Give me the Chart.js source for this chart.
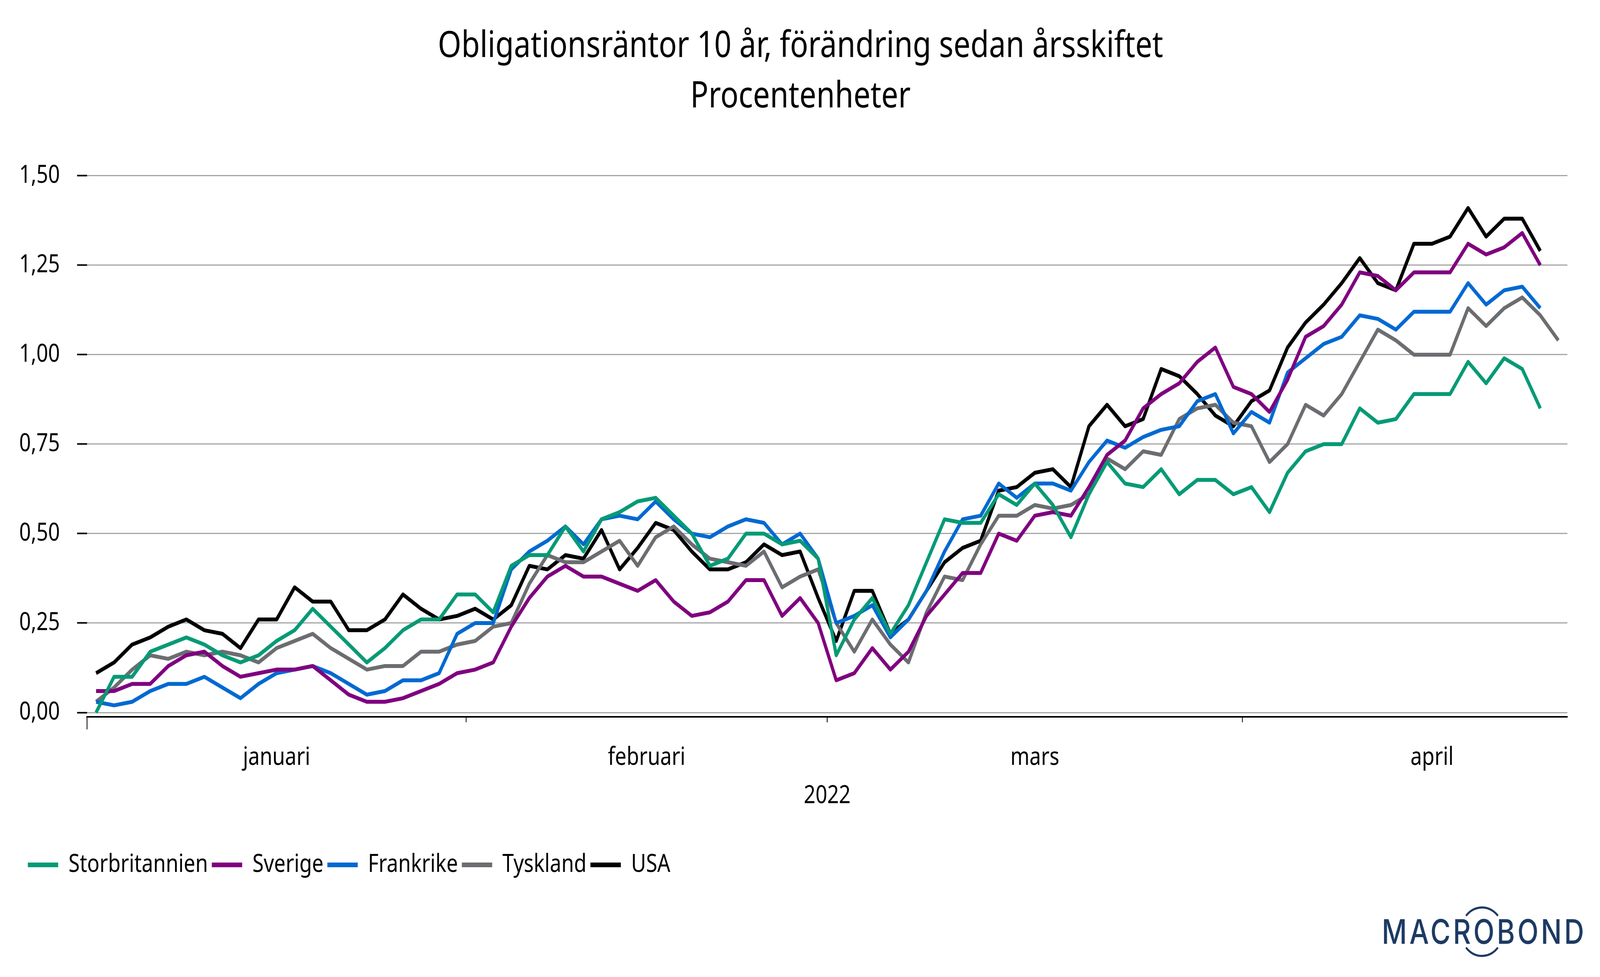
<!DOCTYPE html>
<html>
<head>
<meta charset="utf-8">
<title>Obligationsräntor 10 år</title>
<script src="https://cdn.jsdelivr.net/npm/chart.js@4"></script>
<style>
    html, body { margin: 0; padding: 0; background: #ffffff; overflow: hidden; }
    canvas { display: block; width: 100vw !important; height: 100vh !important; }
</style>
</head>
<body>
<canvas id="myChart" width="5001" height="2501"></canvas>
<script>
// DATA
const titleLines = ['Obligationsräntor 10 år, förändring sedan årsskiftet', 'Procentenheter'];
const yearLabel = '2022';
const monthNames = ['januari', 'februari', 'mars', 'april'];
const monthDays = [21, 20, 23, 21];
const yTicks = [0, 0.25, 0.5, 0.75, 1, 1.25, 1.5];

const storbritannien = [
    0.00, 0.10, 0.10, 0.17, 0.19, 0.21, 0.19, 0.16, 0.14, 0.16,
    0.20, 0.23, 0.29, 0.24, 0.19, 0.14, 0.18, 0.23, 0.26, 0.26,
    0.33, 0.33, 0.28, 0.41, 0.44, 0.44, 0.52, 0.45, 0.54, 0.56,
    0.59, 0.60, 0.55, 0.50, 0.41, 0.43, 0.50, 0.50, 0.47, 0.48,
    0.43, 0.16, 0.26, 0.32, 0.22, 0.30, 0.42, 0.54, 0.53, 0.53,
    0.61, 0.58, 0.64, 0.58, 0.49, 0.61, 0.70, 0.64, 0.63, 0.68,
    0.61, 0.65, 0.65, 0.61, 0.63, 0.56, 0.67, 0.73, 0.75, 0.75,
    0.85, 0.81, 0.82, 0.89, 0.89, 0.89, 0.98, 0.92, 0.99, 0.96,
    0.85
];
const sverige = [
    0.06, 0.06, 0.08, 0.08, 0.13, 0.16, 0.17, 0.13, 0.10, 0.11,
    0.12, 0.12, 0.13, 0.09, 0.05, 0.03, 0.03, 0.04, 0.06, 0.08,
    0.11, 0.12, 0.14, 0.24, 0.32, 0.38, 0.41, 0.38, 0.38, 0.36,
    0.34, 0.37, 0.31, 0.27, 0.28, 0.31, 0.37, 0.37, 0.27, 0.32,
    0.25, 0.09, 0.11, 0.18, 0.12, 0.17, 0.27, 0.33, 0.39, 0.39,
    0.50, 0.48, 0.55, 0.56, 0.55, 0.63, 0.72, 0.76, 0.85, 0.89,
    0.92, 0.98, 1.02, 0.91, 0.89, 0.84, 0.93, 1.05, 1.08, 1.14,
    1.23, 1.22, 1.18, 1.23, 1.23, 1.23, 1.31, 1.28, 1.30, 1.34,
    1.25
];
const frankrike = [
    0.03, 0.02, 0.03, 0.06, 0.08, 0.08, 0.10, 0.07, 0.04, 0.08,
    0.11, 0.12, 0.13, 0.11, 0.08, 0.05, 0.06, 0.09, 0.09, 0.11,
    0.22, 0.25, 0.25, 0.40, 0.45, 0.48, 0.52, 0.47, 0.54, 0.55,
    0.54, 0.59, 0.54, 0.50, 0.49, 0.52, 0.54, 0.53, 0.47, 0.50,
    0.43, 0.25, 0.27, 0.30, 0.21, 0.26, 0.34, 0.45, 0.54, 0.55,
    0.64, 0.60, 0.64, 0.64, 0.62, 0.70, 0.76, 0.74, 0.77, 0.79,
    0.80, 0.87, 0.89, 0.78, 0.84, 0.81, 0.95, 0.99, 1.03, 1.05,
    1.11, 1.10, 1.07, 1.12, 1.12, 1.12, 1.20, 1.14, 1.18, 1.19,
    1.13
];
const tyskland = [
    0.03, 0.07, 0.12, 0.16, 0.15, 0.17, 0.16, 0.17, 0.16, 0.14,
    0.18, 0.20, 0.22, 0.18, 0.15, 0.12, 0.13, 0.13, 0.17, 0.17,
    0.19, 0.20, 0.24, 0.25, 0.36, 0.44, 0.42, 0.42, 0.45, 0.48,
    0.41, 0.49, 0.52, 0.47, 0.43, 0.42, 0.41, 0.45, 0.35, 0.38,
    0.40, 0.25, 0.17, 0.26, 0.19, 0.14, 0.28, 0.38, 0.37, 0.47,
    0.55, 0.55, 0.58, 0.57, 0.58, 0.61, 0.71, 0.68, 0.73, 0.72,
    0.82, 0.85, 0.86, 0.81, 0.80, 0.70, 0.75, 0.86, 0.83, 0.89,
    0.98, 1.07, 1.04, 1.00, 1.00, 1.00, 1.13, 1.08, 1.13, 1.16,
    1.11, 1.04
];
const usa = [
    0.11, 0.14, 0.19, 0.21, 0.24, 0.26, 0.23, 0.22, 0.18, 0.26,
    0.26, 0.35, 0.31, 0.31, 0.23, 0.23, 0.26, 0.33, 0.29, 0.26,
    0.27, 0.29, 0.26, 0.30, 0.41, 0.40, 0.44, 0.43, 0.51, 0.40,
    0.46, 0.53, 0.51, 0.45, 0.40, 0.40, 0.42, 0.47, 0.44, 0.45,
    0.32, 0.20, 0.34, 0.34, 0.22, 0.26, 0.34, 0.42, 0.46, 0.48,
    0.62, 0.63, 0.67, 0.68, 0.63, 0.80, 0.86, 0.80, 0.82, 0.96,
    0.94, 0.89, 0.83, 0.80, 0.87, 0.90, 1.02, 1.09, 1.14, 1.20,
    1.27, 1.20, 1.18, 1.31, 1.31, 1.33, 1.41, 1.33, 1.38, 1.38,
    1.29
];

// Vardagar 2022, en etikett per observation
const labels = [];
for (let d = new Date(2022, 0, 3); labels.length < tyskland.length; d.setDate(d.getDate() + 1)) {
    if (d.getDay() !== 0 && d.getDay() !== 6) labels.push(d.toISOString().slice(0, 10));
}

const FONT = '"Noto Sans", Roboto, sans-serif';

function line(label, data, color) {
    return {
        label: label,
        data: data,
        borderColor: color,
        backgroundColor: color,
        borderWidth: 10,
        borderCapStyle: 'butt',
        borderJoinStyle: 'round',
        pointRadius: 0,
        tension: 0,
        fill: false
    };
}

// Månadsetiketter och streck under x-axeln
const monthAxis = {
    id: 'monthAxis',
    afterLayout(chart) {
        // titel och legend ligger lite till höger om layoutens kant
        chart.titleBlock.left += 50;
        chart.legend.left += 20;
    },
    afterDraw(chart) {
        const ctx = chart.ctx;
        const x = chart.scales.x;
        const half = (x.getPixelForValue(1) - x.getPixelForValue(0)) / 2;
        const bottom = chart.chartArea.bottom;
        ctx.save();
        ctx.fillStyle = '#000000';
        ctx.strokeStyle = '#000000';
        ctx.lineWidth = 2.5;
        ctx.font = '64px ' + FONT;
        ctx.textAlign = 'center';
        ctx.textBaseline = 'alphabetic';
        let start = 0;
        monthNames.forEach((name, i) => {
            const px = x.getPixelForValue(start) - half;
            ctx.beginPath();
            ctx.moveTo(px, bottom);
            ctx.lineTo(px, bottom + (i === 0 ? 32 : 14));
            ctx.stroke();
            ctx.fillText(name, x.getPixelForValue(start + (monthDays[i] - 1) / 2), bottom + 123);
            start += monthDays[i];
        });
        ctx.restore();
    }
};

// Macrobond-logotypen nere till höger
const logo = {
    id: 'logo',
    afterDraw(chart) {
        const ctx = chart.ctx;
        ctx.save();
        ctx.fillStyle = '#1c3a63';
        ctx.strokeStyle = '#1c3a63';
        ctx.lineWidth = 5.5;
        ctx.font = '500 86px Inter, ' + FONT;
        ctx.textAlign = 'left';
        ctx.textBaseline = 'alphabetic';
        ctx.letterSpacing = '7.7px';
        ctx.fillText('MACROBOND', 4319, 2416);
        const a = 49 * Math.PI / 180;
        ctx.beginPath();
        ctx.ellipse(4632, 2385, 66, 62, 0, -Math.PI / 2 - a, -Math.PI / 2 + a);
        ctx.stroke();
        ctx.beginPath();
        ctx.ellipse(4632, 2385, 66, 62, 0, Math.PI / 2 - a, Math.PI / 2 + a);
        ctx.stroke();
        ctx.restore();
    }
};

new Chart(document.getElementById('myChart'), {
    type: 'line',
    data: {
        labels: labels,
        datasets: [
            line('Storbritannien', storbritannien, '#049a76'),
            line('Sverige', sverige, '#7f007f'),
            line('Frankrike', frankrike, '#0069d2'),
            line('Tyskland', tyskland, '#6b6d70'),
            line('USA', usa, '#000000')
        ]
    },
    plugins: [monthAxis, logo],
    options: {
        responsive: false,
        devicePixelRatio: 1,
        animation: false,
        layout: { padding: { left: 55, right: 102, top: 0, bottom: 245 } },
        plugins: {
            title: {
                display: true,
                text: titleLines,
                color: '#000000',
                font: { family: FONT, size: 94, weight: 'normal', lineHeight: 1.372 },
                padding: { top: 55, bottom: 137 }
            },
            legend: {
                position: 'bottom',
                align: 'start',
                labels: {
                    color: '#000000',
                    font: { family: FONT, size: 64 },
                    boxWidth: 95,
                    boxHeight: 12,
                    padding: 12,
                    generateLabels(chart) {
                        const items = Chart.defaults.plugins.legend.labels.generateLabels(chart);
                        items.forEach(item => { item.lineWidth = 0; });
                        return items;
                    }
                }
            },
            tooltip: { enabled: false }
        },
        scales: {
            x: {
                offset: true,
                grid: { display: false },
                border: { display: true, color: '#000000', width: 4 },
                ticks: { display: false },
                title: {
                    display: true,
                    text: yearLabel,
                    color: '#000000',
                    font: { family: FONT, size: 64 },
                    padding: { top: 0, bottom: 94 }
                },
                afterFit(scale) { scale.height = 335; }
            },
            y: {
                min: -0.012,
                max: 1.5,
                afterBuildTicks(scale) { scale.ticks = yTicks.map(v => ({ value: v })); },
                afterFit(scale) { scale.width = 217; },
                border: { display: false },
                grid: {
                    color: '#a6a6a6',
                    lineWidth: 3,
                    tickColor: '#000000',
                    tickWidth: 4,
                    tickLength: 31
                },
                ticks: {
                    color: '#000000',
                    padding: 54,
                    font: { family: FONT, size: 64 },
                    callback: v => v.toFixed(2).replace('.', ',')
                }
            }
        }
    }
});
</script>
</body>
</html>
